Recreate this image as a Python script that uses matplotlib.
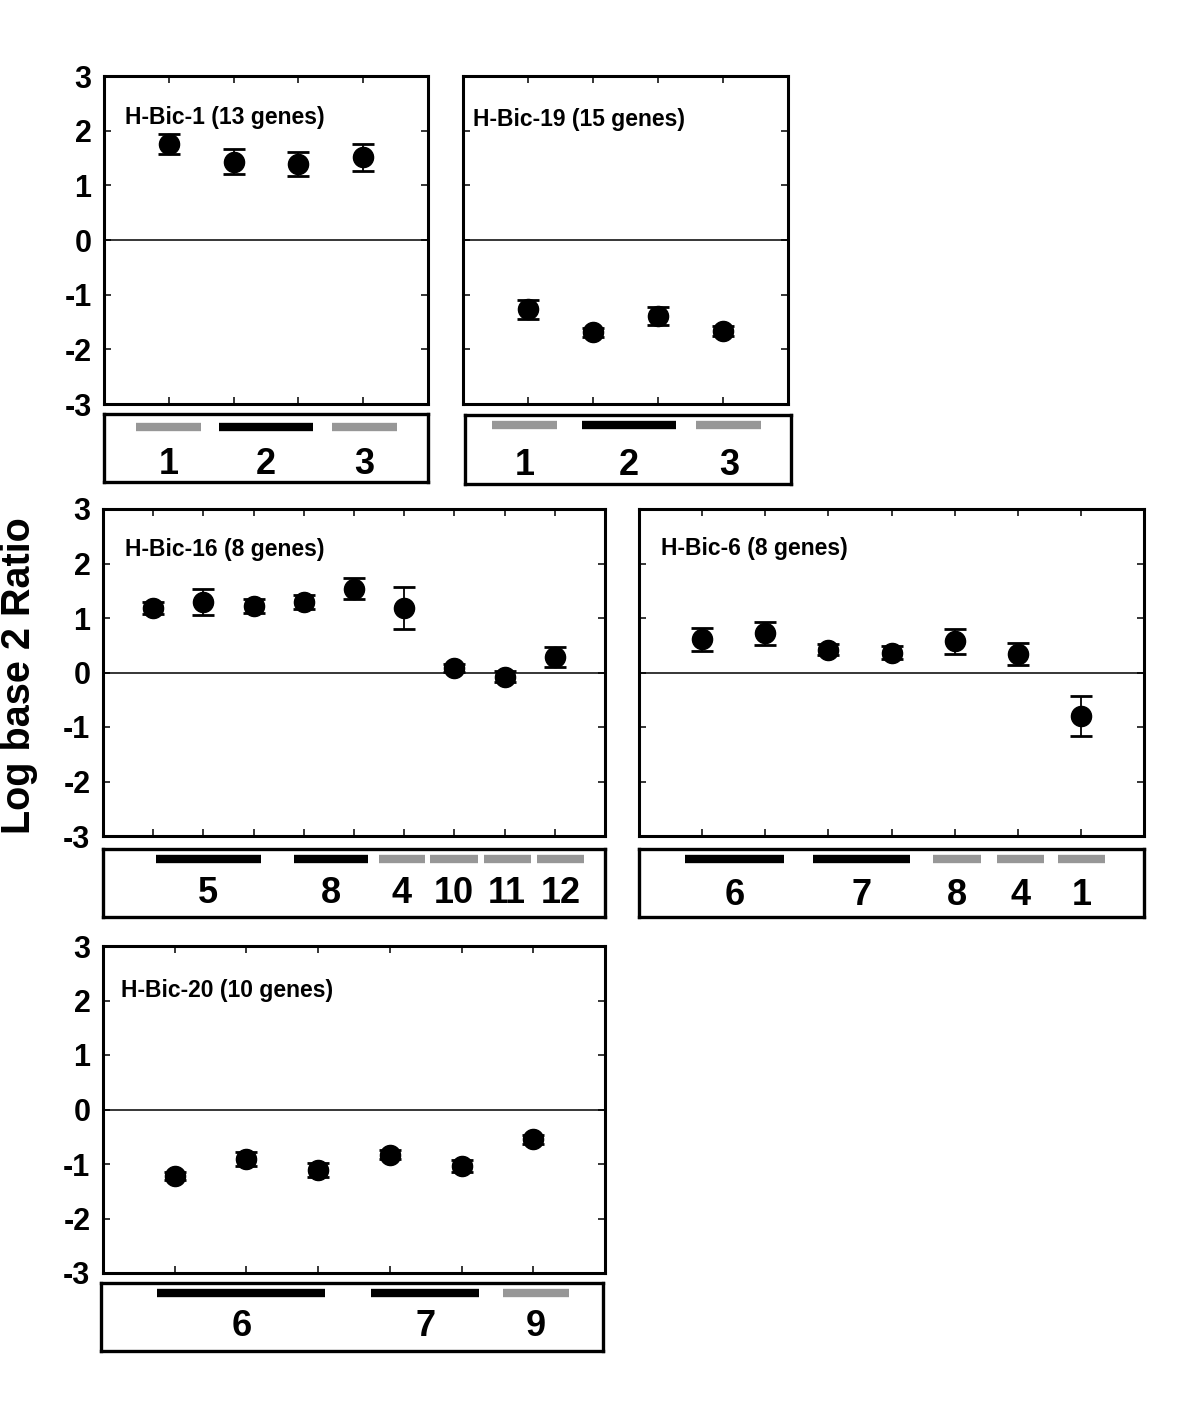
import numpy as np
import matplotlib
matplotlib.use('Agg')
import matplotlib.pyplot as plt

plt.rcParams['font.family'] = ['Liberation Sans', 'DejaVu Sans']

W, H = 1200, 1401

# ---------------------------- data (log2 ratio, mean +/- error) ----------------------------
bic1_mean = [1.76, 1.43, 1.39, 1.51]
bic1_err = [0.18, 0.23, 0.22, 0.24]
bic1_groups = ['1', '2', '3']
bic1_group_start = [0.50, 1.77, 3.52]
bic1_group_end = [1.49, 3.23, 4.52]
bic1_group_kind = ['light', 'dark', 'light']

bic19_mean = [-1.27, -1.69, -1.39, -1.66]
bic19_err = [0.18, 0.08, 0.17, 0.09]
bic19_groups = ['1', '2', '3']
bic19_group_start = [0.41, 1.79, 3.55]
bic19_group_end = [1.41, 3.24, 4.54]
bic19_group_kind = ['light', 'dark', 'light']

bic16_mean = [1.18, 1.30, 1.22, 1.30, 1.54, 1.18, 0.08, -0.08, 0.29]
bic16_err = [0.11, 0.24, 0.12, 0.13, 0.19, 0.39, 0.07, 0.10, 0.18]
bic16_groups = ['5', '8', '4', '10', '11', '12']
bic16_group_start = [1.06, 3.80, 5.49, 6.52, 7.58, 8.64]
bic16_group_end = [3.14, 5.28, 6.42, 7.47, 8.52, 9.58]
bic16_group_kind = ['dark', 'dark', 'light', 'light', 'light', 'light']

bic6_mean = [0.61, 0.72, 0.42, 0.36, 0.57, 0.34, -0.80]
bic6_err = [0.21, 0.21, 0.10, 0.12, 0.23, 0.20, 0.37]
bic6_groups = ['6', '7', '8', '4', '1']
bic6_group_start = [0.73, 2.75, 4.66, 5.67, 6.63]
bic6_group_end = [2.29, 4.30, 5.41, 6.42, 7.39]
bic6_group_kind = ['dark', 'dark', 'light', 'light', 'light']

bic20_mean = [-1.22, -0.91, -1.11, -0.83, -1.03, -0.55]
bic20_err = [0.08, 0.13, 0.12, 0.08, 0.11, 0.08]
bic20_groups = ['6', '7', '9']
bic20_group_start = [0.78, 3.77, 5.61]
bic20_group_end = [3.13, 5.27, 6.52]
bic20_group_kind = ['dark', 'dark', 'light']

kind_color = {'dark': 'black', 'light': '#979797'}


def px_rect(x0, y0, x1, y1):
    # pixel box (top-left origin) -> figure fraction
    return [x0 / W, 1 - y1 / H, (x1 - x0) / W, (y1 - y0) / H]


def draw_panel(rect, box_rect, mean, err, title, tx, ty, ylabels,
               g_names, g_start, g_end, g_kind, bar_y=0.84, num_y=0.3):
    n = len(mean)
    x = np.arange(1, n + 1)

    ax = fig.add_axes(px_rect(*rect))
    ax.axhline(0, color='black', lw=1.1, zorder=1)
    ax.errorbar(x, mean, yerr=err, fmt='o', ms=14.5, mfc='black', mec='black',
                ecolor='black', elinewidth=1.3, capsize=8, capthick=2, zorder=3)
    ax.set_xlim(0, n + 1)
    ax.set_ylim(-3, 3)
    ax.set_xticks(x)
    ax.set_xticklabels([])
    ax.set_yticks(range(-3, 4))
    ax.tick_params(direction='in', top=True, right=True, length=5, width=1.1,
                   labelsize=22, pad=9)
    if ylabels:
        ax.set_yticklabels([str(v) for v in range(-3, 4)], fontweight='bold')
    else:
        ax.set_yticklabels([])
    for s in ax.spines.values():
        s.set_linewidth(2.2)
    ax.text(tx, ty, title, transform=ax.transAxes, fontsize=16.5,
            fontweight='bold', ha='left', va='center')

    # group box under the panel
    bx = fig.add_axes(px_rect(*box_rect))
    bx.set_xlim(0, n + 1)
    bx.set_ylim(0, 1)
    bx.set_xticks([])
    bx.set_yticks([])
    for s in bx.spines.values():
        s.set_linewidth(2.4)
    for name, a, b, k in zip(g_names, g_start, g_end, g_kind):
        bx.hlines(bar_y, a, b, colors=kind_color[k], lw=6, capstyle='butt')
        bx.text((a + b) / 2, num_y, name, fontsize=26, fontweight='bold',
                ha='center', va='center')
    return ax


fig = plt.figure(figsize=(W / 100, H / 100), dpi=100)

#------------------------------ top row ------------------------------
draw_panel((104, 76, 428, 404), (104, 414, 428, 482), bic1_mean, bic1_err,
           'H-Bic-1 (13 genes)', 0.065, 0.872, True,
           bic1_groups, bic1_group_start, bic1_group_end, bic1_group_kind,
           bar_y=0.81, num_y=0.25)

draw_panel((463, 76, 788, 404), (465, 415, 791, 484), bic19_mean, bic19_err,
           'H-Bic-19 (15 genes)', 0.03, 0.866, False,
           bic19_groups, bic19_group_start, bic19_group_end, bic19_group_kind,
           bar_y=0.85, num_y=0.27)

#------------------------------ middle row ------------------------------
draw_panel((103, 509, 605, 836), (103, 849, 605, 917), bic16_mean, bic16_err,
           'H-Bic-16 (8 genes)', 0.044, 0.875, True,
           bic16_groups, bic16_group_start, bic16_group_end, bic16_group_kind,
           bar_y=0.86, num_y=0.34)

draw_panel((639, 509, 1144, 836), (639, 849, 1144, 917), bic6_mean, bic6_err,
           'H-Bic-6 (8 genes)', 0.044, 0.88, False,
           bic6_groups, bic6_group_start, bic6_group_end, bic6_group_kind,
           bar_y=0.86, num_y=0.32)

#------------------------------ bottom row ------------------------------
draw_panel((103, 946, 605, 1273), (101, 1283, 603, 1351), bic20_mean, bic20_err,
           'H-Bic-20 (10 genes)', 0.036, 0.865, True,
           bic20_groups, bic20_group_start, bic20_group_end, bic20_group_kind,
           bar_y=0.86, num_y=0.36)

fig.text(19 / W, 1 - 676 / H, 'Log base 2 Ratio', rotation=90, fontsize=28.5,
         fontweight='bold', ha='center', va='center')

fig.savefig('out.png', dpi=100)
